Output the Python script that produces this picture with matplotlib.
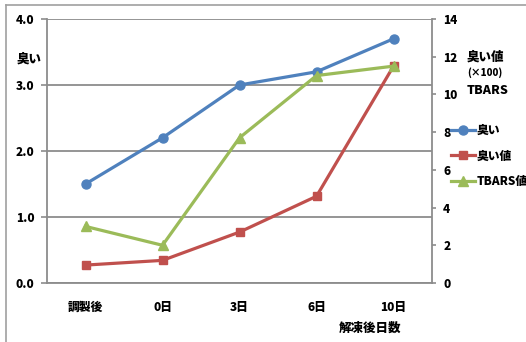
import matplotlib
matplotlib.use('Agg')
import matplotlib.pyplot as plt
from matplotlib.lines import Line2D

plt.rcParams['font.family'] = ['Noto Sans CJK JP', 'DejaVu Sans']
plt.rcParams['font.weight'] = 'bold'

# data
categories = ['調製後', '0日', '3日', '6日', '10日']
odor = [1.5, 2.2, 3.0, 3.2, 3.7]            # left axis
odor_value = [0.95, 1.2, 2.7, 4.6, 11.5]    # right axis (x100)
tbars = [3.0, 2.0, 7.7, 11.0, 11.5]         # right axis
left_ticks = [0, 1, 2, 3, 4]
right_ticks = [0, 2, 4, 6, 8, 10, 12, 14]

blue = '#4F81BD'
red = '#C0504D'
green = '#9BBB59'
grid_c = '#8C8C8C'

W, H = 526, 342
fig = plt.figure(figsize=(W / 100, H / 100), dpi=100)

# outer frame (only left/top visible in the reference)
fig.add_artist(Line2D([6 / W, 6 / W], [0, 1 - 5 / H], color='#A0A0A0', lw=1.2))
fig.add_artist(Line2D([6 / W, 1], [1 - 5 / H, 1 - 5 / H], color='#A0A0A0', lw=1.2))

ax = fig.add_axes([47 / W, (H - 283) / H, 385 / W, 264 / H])
ax2 = ax.twinx()

x = list(range(len(categories)))
ax.plot(x, odor, color=blue, lw=2.3, marker='o', ms=6.5, label='臭い', zorder=3)
ax2.plot(x, odor_value, color=red, lw=2.3, marker='s', ms=6, label='臭い値', zorder=3)
ax2.plot(x, tbars, color=green, lw=2.3, marker='^', ms=7, label='TBARS値', zorder=3)

ax.set_xlim(-0.5, len(categories) - 0.5)
ax.set_ylim(0, 4)
ax2.set_ylim(0, 14)
ax.set_yticks(left_ticks)
ax.set_yticklabels([f'{v:.1f}' for v in left_ticks], fontsize=8.5, fontweight='heavy')
ax2.set_yticks(right_ticks)
ax2.set_yticklabels([str(v) for v in right_ticks], fontsize=8.5, fontweight='heavy')
ax.set_xticks(x)
ax.set_xticklabels(categories, fontsize=8.5, fontweight='heavy')

ax.grid(axis='y', color=grid_c, lw=1.3)
ax.set_axisbelow(True)
for a in (ax, ax2):
    for s in a.spines.values():
        s.set_visible(False)
ax.spines['left'].set_visible(True)
ax.spines['left'].set_color(grid_c)
ax.spines['left'].set_linewidth(1.3)
ax.spines['bottom'].set_visible(True)
ax.spines['bottom'].set_color(grid_c)
ax.spines['bottom'].set_linewidth(1.3)
ax2.spines['right'].set_visible(True)
ax2.spines['right'].set_color(grid_c)
ax2.spines['right'].set_linewidth(1.3)

ax.tick_params(axis='y', length=4, color=grid_c, width=1.2, pad=5)
ax.tick_params(axis='x', length=0, pad=13)
ax2.tick_params(axis='y', length=3, color=grid_c, width=1.2, pad=5)

# axis titles
fig.text(17 / W, 1 - 58 / H, '臭い', fontsize=9, fontweight='heavy', va='center')
fig.text(467 / W, 1 - 56 / H, '臭い値', fontsize=9, fontweight='heavy', va='center')
fig.text(467 / W, 1 - 73 / H, '(×100)', fontsize=7, fontweight='heavy', va='center')
fig.text(467 / W, 1 - 90 / H, 'TBARS', fontsize=9, fontweight='heavy', va='center')
fig.text(370 / W, 1 - 328 / H, '解凍後日数', fontsize=9, fontweight='heavy', va='center', ha='center')

leg = fig.legend(loc='upper left', bbox_to_anchor=(451 / W, 1 - 124 / H), frameon=False,
                 prop={'size': 8.5, 'weight': 'heavy'}, handlelength=2.0, handletextpad=0.15,
                 labelspacing=1.15, borderpad=0, borderaxespad=0)

fig.savefig('out.png', dpi=100)
